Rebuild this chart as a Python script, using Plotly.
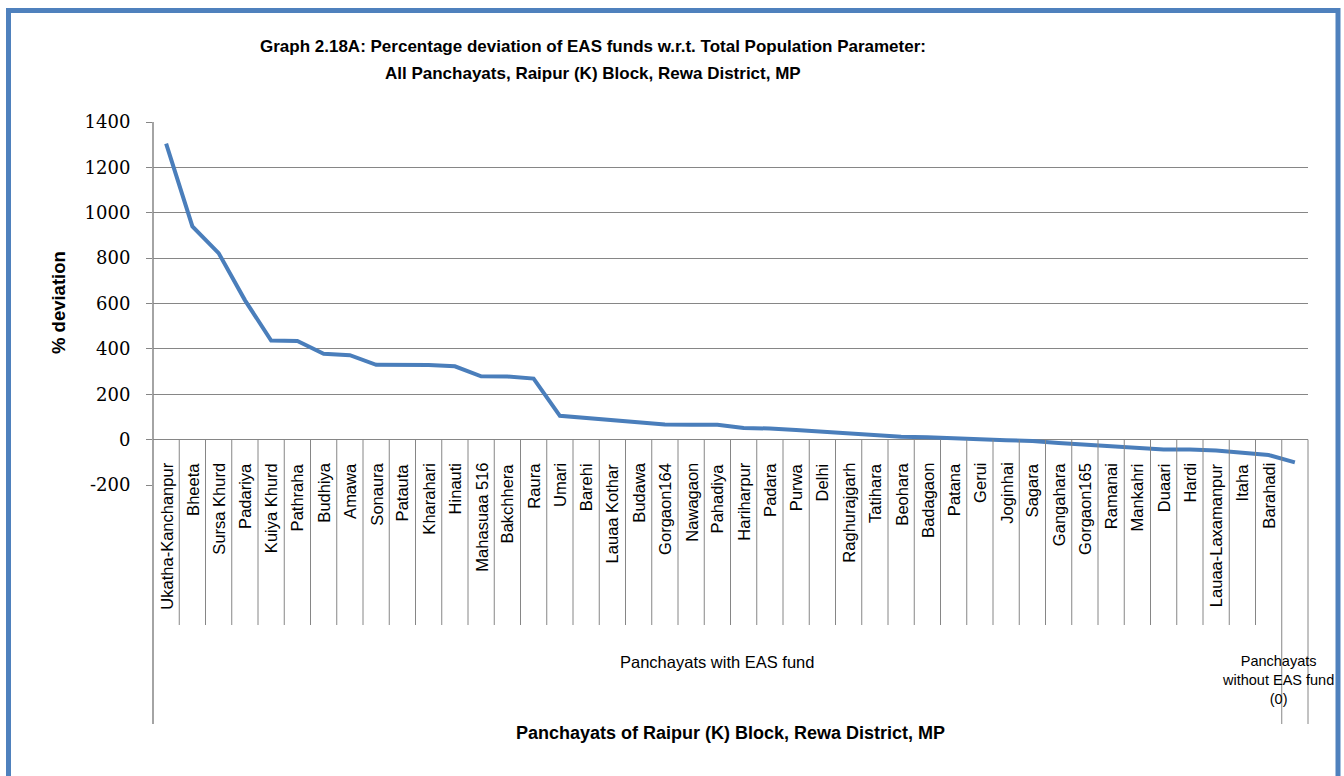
import plotly.graph_objects as go

# ---------------- data ----------------
panchayats = [
    "Ukatha-Kanchanpur", "Bheeta", "Sursa Khurd", "Padariya", "Kuiya Khurd",
    "Pathraha", "Budhiya", "Amawa", "Sonaura", "Patauta", "Kharahari",
    "Hinauti", "Mahasuaa 516", "Bakchhera", "Raura", "Umari", "Barehi",
    "Lauaa Kothar", "Budawa", "Gorgaon164", "Nawagaon", "Pahadiya",
    "Hariharpur", "Padara", "Purwa", "Delhi", "Raghurajgarh", "Tatihara",
    "Beohara", "Badagaon", "Patana", "Gerui", "Joginhai", "Sagara",
    "Gangahara", "Gorgaon165", "Ramanai", "Mankahri", "Duaari", "Hardi",
    "Lauaa-Laxamanpur", "Itaha", "Barahadi", "",
]
deviation = [
    1305, 940, 822, 615, 437, 435, 378, 372, 330, 330, 329,
    323, 279, 278, 269, 105, 95, 88, 76, 67, 66, 66,
    51, 49, 42, 35, 29, 23, 13, 11, 8, 2, -3, -6,
    -15, -22, -31, -38, -43, -44, -48, -58, -68, -100,
]
groups = ["Panchayats with EAS fund", "Panchayats<br>without EAS fund<br>(0)"]
group_sizes = [43, 1]
y_ticks = [1400, 1200, 1000, 800, 600, 400, 200, 0, -200]

title_line1 = "<b>Graph 2.18A: Percentage deviation of EAS funds w.r.t. Total Population Parameter:</b>"
title_line2 = "<b>All Panchayats, Raipur (K) Block, Rewa District, MP</b>"
x_title = "<b>Panchayats of Raipur (K) Block, Rewa District, MP</b>"
y_title = "<b>% deviation</b>"

# ---------------- figure ----------------
W, H = 1344, 776
L, R, T, B = 153, 36, 122, 291
plot_w = W - L - R
plot_h = H - T - B
ymin, ymax = -200, 1400
n = len(deviation)
xpos = list(range(n))

GRID = "#868686"
BLUE = "#4A7EBB"
FONT = "Liberation Sans"


def py(px):  # pixel (from top) -> paper y
    return (H - B - px) / plot_h


def pxx(px):  # pixel (from left) -> paper x
    return (px - L) / plot_w


fig = go.Figure()
fig.add_trace(go.Scatter(
    x=xpos, y=deviation, mode="lines",
    line=dict(color=BLUE, width=4), hoverinfo="skip", showlegend=False,
))

zero_paper = (0 - ymin) / (ymax - ymin)
shapes = []
annotations = []

# title (two centred lines)
for txt, ypx in ((title_line1, 46), (title_line2, 73)):
    annotations.append(dict(
        x=pxx(593), xref="paper", y=py(ypx), yref="paper", text=txt,
        xanchor="center", yanchor="middle", showarrow=False,
        font=dict(family=FONT, size=17, color="black"),
    ))

# category labels
for i, name in enumerate(panchayats):
    if name:
        annotations.append(dict(
            x=i, xref="x", y=py(461), yref="paper", text=name, textangle=-90,
            xanchor="center", yanchor="top", showarrow=False,
            font=dict(family=FONT, size=16.5, color="black"),
        ))

# group boundaries
bounds = [-0.5]
for s in group_sizes:
    bounds.append(bounds[-1] + s)

long_bottom = py(724)
short_bottom = py(625)
for k in range(1, n):
    xb = k - 0.5
    is_group = xb in bounds
    shapes.append(dict(
        type="line", xref="x", yref="paper", x0=xb, x1=xb,
        y0=zero_paper, y1=long_bottom if is_group else short_bottom,
        line=dict(color=GRID, width=1),
    ))
# right edge divider
shapes.append(dict(type="line", xref="paper", yref="paper", x0=1, x1=1,
                   y0=zero_paper, y1=long_bottom, line=dict(color=GRID, width=1)))
# left axis line extending into category area
shapes.append(dict(type="line", xref="paper", yref="paper", x0=0, x1=0,
                   y0=1, y1=long_bottom, line=dict(color=GRID, width=1.5)))

# group labels
centre0 = (bounds[0] + bounds[1]) / 2
annotations.append(dict(
    x=centre0, xref="x", y=py(651), yref="paper", text=groups[0],
    xanchor="center", yanchor="top", showarrow=False,
    font=dict(family=FONT, size=16.5, color="black"),
))
annotations.append(dict(
    x=pxx(1336), xref="paper", y=py(651), yref="paper", text=groups[1],
    xanchor="right", yanchor="top", align="center", showarrow=False,
    font=dict(family=FONT, size=14.5, color="black"),
))

# axis titles
annotations.append(dict(
    x=0.5, xref="paper", y=py(733), yref="paper", text=x_title,
    xanchor="center", yanchor="middle", showarrow=False,
    font=dict(family=FONT, size=18, color="black"),
))
annotations.append(dict(
    x=pxx(58), xref="paper", y=py(303), yref="paper", text=y_title,
    textangle=-90, xanchor="center", yanchor="middle", showarrow=False,
    font=dict(family=FONT, size=18.5, color="black"),
))

# chart border
shapes.append(dict(
    type="rect", xref="paper", yref="paper",
    x0=pxx(8.5), x1=pxx(1338), y0=py(10.5), y1=py(800),
    line=dict(color="#4F81BD", width=5), fillcolor="rgba(0,0,0,0)",
))

fig.update_layout(
    width=W, height=H,
    margin=dict(l=L, r=R, t=T, b=B),
    paper_bgcolor="white", plot_bgcolor="white",
    xaxis=dict(
        range=[-0.5, n - 0.5], showticklabels=False, showgrid=False,
        zeroline=False, showline=False, ticks="", fixedrange=True,
    ),
    yaxis=dict(
        range=[ymin, ymax], tickvals=y_ticks, ticktext=[str(v) for v in y_ticks],
        showgrid=True, gridcolor=GRID, gridwidth=1,
        zeroline=True, zerolinecolor=GRID, zerolinewidth=1,
        showline=False, ticks="outside", ticklen=6, tickcolor=GRID,
        ticklabelstandoff=12,
        tickfont=dict(family="DejaVu Serif", size=18, color="black"),
    ),
    shapes=shapes,
    annotations=annotations,
    showlegend=False,
)

fig.write_html(
    "out.html",
    config={"displayModeBar": False},
    post_script="document.body.style.margin='0';document.body.style.overflow='hidden';",
)
